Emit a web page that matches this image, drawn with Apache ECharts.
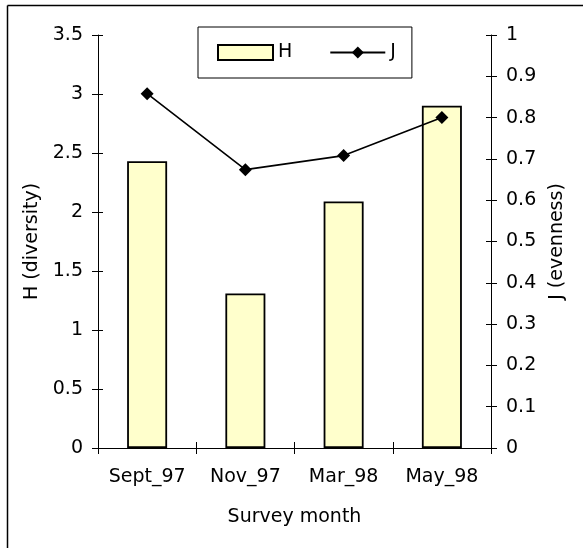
<!DOCTYPE html>
<html>
<head>
<meta charset="utf-8">
<script src="https://cdn.jsdelivr.net/npm/echarts@6/dist/echarts.min.js"></script>
<style>
html,body{margin:0;padding:0;background:#fff;}
#chart{width:583px;height:548px;}
</style>
</head>
<body>
<div id="chart"></div>
<script>
var categories = ['Sept_97', 'Nov_97', 'Mar_98', 'May_98'];
var hValues = [2.43, 1.31, 2.09, 2.90];
var jValues = [0.858, 0.674, 0.708, 0.800];
var hTicks = { min: 0, max: 3.5, interval: 0.5 };
var jTicks = { min: 0, max: 1, interval: 0.1 };

var FONT = 'DejaVu Sans';
var FS = 19;
var chart = echarts.init(document.getElementById('chart'), null, { renderer: 'canvas' });

var labelStyle = { color: '#000', fontFamily: FONT, fontSize: FS };

chart.setOption({
  animation: false,
  backgroundColor: '#fff',
  textStyle: { fontFamily: FONT, color: '#000' },
  graphic: [
    { type: 'line', shape: { x1: 7.5, y1: 5.5, x2: 583, y2: 5.5 }, style: { stroke: '#000', lineWidth: 1.5 } },
    { type: 'line', shape: { x1: 7.5, y1: 5.5, x2: 7.5, y2: 548 }, style: { stroke: '#000', lineWidth: 1.5 } }
  ],
  legend: {
    left: 198, top: 27,
    padding: [16, 16, 16, 19],
    borderColor: '#000', borderWidth: 1,
    itemWidth: 55, itemHeight: 15, itemGap: 37,
    textStyle: { color: '#000', fontFamily: FONT, fontSize: FS },
    data: [{ name: 'H', icon: 'rect' }, { name: 'J' }]
  },
  grid: { left: 98, right: 92, top: 35, height: 413, containLabel: false },
  xAxis: [
    {
      type: 'category', data: categories, boundaryGap: true,
      axisLine: { lineStyle: { color: '#000', width: 1 } },
      axisTick: { show: true, length: 6, inside: false, lineStyle: { color: '#000' } },
      axisLabel: Object.assign({ margin: 20, interval: 0 }, labelStyle),
      name: 'Survey month', nameLocation: 'middle', nameGap: 60,
      nameTextStyle: { color: '#000', fontFamily: FONT, fontSize: FS }
    },
    {
      type: 'category', data: categories, boundaryGap: true, position: 'bottom',
      axisLine: { show: false },
      axisTick: { show: true, length: 6, inside: true, lineStyle: { color: '#000' } },
      axisLabel: { show: false }
    }
  ],
  yAxis: [
    {
      type: 'value', position: 'left', min: hTicks.min, max: hTicks.max, interval: hTicks.interval,
      axisLine: { show: true, lineStyle: { color: '#000' } },
      axisTick: { show: true, length: 6, lineStyle: { color: '#000' } },
      axisLabel: Object.assign({ margin: 15 }, labelStyle),
      splitLine: { show: false },
      name: 'H (diversity)', nameLocation: 'middle', nameGap: 51, nameRotate: 90,
      nameTextStyle: { color: '#000', fontFamily: FONT, fontSize: FS }
    },
    {
      type: 'value', position: 'right', min: jTicks.min, max: jTicks.max, interval: jTicks.interval,
      axisLine: { show: true, lineStyle: { color: '#000' } },
      axisTick: { show: true, length: 6, lineStyle: { color: '#000' } },
      axisLabel: Object.assign({ margin: 15 }, labelStyle),
      splitLine: { show: false },
      name: 'J (evenness)', nameLocation: 'middle', nameGap: 56, nameRotate: 90,
      nameTextStyle: { color: '#000', fontFamily: FONT, fontSize: FS }
    },
    {
      type: 'value', position: 'left', min: hTicks.min, max: hTicks.max, interval: hTicks.interval,
      axisLine: { show: false }, axisLabel: { show: false }, splitLine: { show: false },
      axisTick: { show: true, inside: true, length: 5, lineStyle: { color: '#000' } }
    },
    {
      type: 'value', position: 'right', min: jTicks.min, max: jTicks.max, interval: jTicks.interval,
      axisLine: { show: false }, axisLabel: { show: false }, splitLine: { show: false },
      axisTick: { show: true, inside: true, length: 5, lineStyle: { color: '#000' } }
    }
  ],
  series: [
    {
      name: 'H', type: 'bar', xAxisIndex: 0, yAxisIndex: 0, data: hValues,
      barWidth: 40,
      itemStyle: { color: '#FFFFCC', borderColor: '#000', borderWidth: 1.8 }
    },
    {
      name: 'J', type: 'line', xAxisIndex: 0, yAxisIndex: 1, data: jValues,
      symbol: 'diamond', symbolSize: 13,
      lineStyle: { color: '#000', width: 1.6 },
      itemStyle: { color: '#000' },
      z: 5
    }
  ]
});
</script>
</body>
</html>
